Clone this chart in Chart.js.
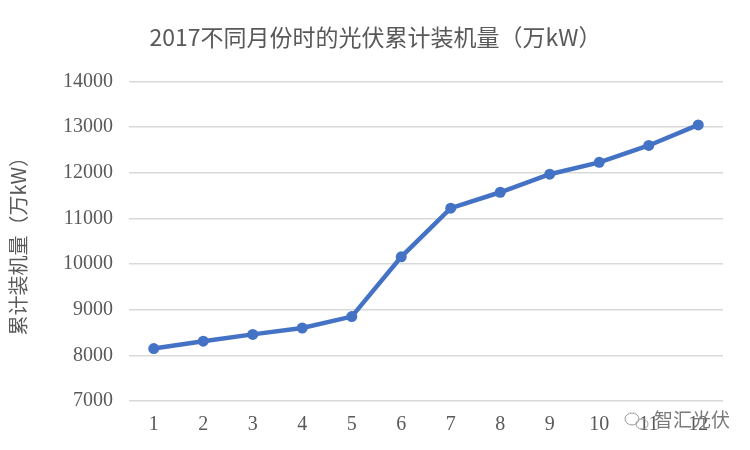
<!DOCTYPE html>
<html>
<head>
<meta charset="utf-8">
<script src="https://cdn.jsdelivr.net/npm/chart.js@4"></script>
<style>
  html, body { margin: 0; padding: 0; background: #fff; }
  #wrap { width: 750px; height: 450px; }
</style>
</head>
<body>
<div id="wrap"><canvas id="lineChart" width="750" height="450"></canvas></div>
<script>
// dữ liệu
const months = ['1', '2', '3', '4', '5', '6', '7', '8', '9', '10', '11', '12'];
const capacity = [8150, 8310, 8460, 8600, 8850, 10160, 11225, 11575, 11970, 12230, 12600, 13050];
const titleText = '2017不同月份时的光伏累计装机量（万kW）';
const yTitle = '累计装机量（万kW）';
const watermark = '智汇光伏';

const grey = '#595959';
const serif = '"Liberation Serif", "DejaVu Serif", serif';
const cjk = '"Noto Sans CJK SC", "Noto Sans", sans-serif';

// watermark góc dưới phải
const watermarkPlugin = {
    id: 'watermark',
    afterDraw(chart) {
        const ctx = chart.ctx;
        ctx.save();
        ctx.strokeStyle = '#9a9a9a';
        ctx.lineWidth = 1;
        ctx.beginPath();
        ctx.ellipse(632, 419, 7, 6, 0, 0, Math.PI * 2);
        ctx.stroke();
        ctx.beginPath();
        ctx.ellipse(642, 424, 6, 5, 0, 0, Math.PI * 2);
        ctx.stroke();
        ctx.fillStyle = '#7a7a7a';
        ctx.font = '19px ' + cjk;
        ctx.textBaseline = 'middle';
        ctx.fillText(watermark, 654, 420);
        ctx.restore();
    }
};

const ctx = document.getElementById('lineChart').getContext('2d');
const lineChart = new Chart(ctx, {
    type: 'line',
    data: {
        labels: months,
        datasets: [{
            label: 'capacity',
            data: capacity,
            borderColor: '#4472C4',
            backgroundColor: '#4472C4',
            borderWidth: 4.5,
            pointRadius: 5.5,
            pointBorderWidth: 0,
            fill: false,
            tension: 0
        }]
    },
    options: {
        responsive: false,
        animation: false,
        layout: { padding: { left: 28, right: 27, top: 0, bottom: 0 } },
        plugins: {
            legend: { display: false },
            tooltip: { enabled: false },
            title: {
                display: true,
                text: titleText,
                color: grey,
                font: { family: cjk, size: 23, weight: 'normal' },
                padding: { top: 23, bottom: 31 }
            }
        },
        scales: {
            x: {
                offset: true,
                grid: { display: false, drawTicks: false },
                border: { display: false },
                ticks: {
                    color: grey,
                    font: { family: serif, size: 20 },
                    padding: 12,
                    maxRotation: 0
                },
                afterFit(scale) { scale.height = 49; }
            },
            y: {
                min: 7000,
                max: 14000,
                grid: { color: '#d9d9d9', lineWidth: 1.5, drawTicks: false },
                border: { display: false },
                ticks: {
                    stepSize: 1000,
                    color: grey,
                    font: { family: serif, size: 20 },
                    padding: 16,
                    callback: (v) => String(v)
                },
                title: {
                    display: true,
                    text: yTitle,
                    color: grey,
                    font: { family: cjk, size: 20, weight: 'normal' },
                    padding: { top: -22, bottom: 0 }
                },
                afterFit(scale) { scale.width = 101; }
            }
        }
    },
    plugins: [watermarkPlugin]
});
</script>
</body>
</html>
